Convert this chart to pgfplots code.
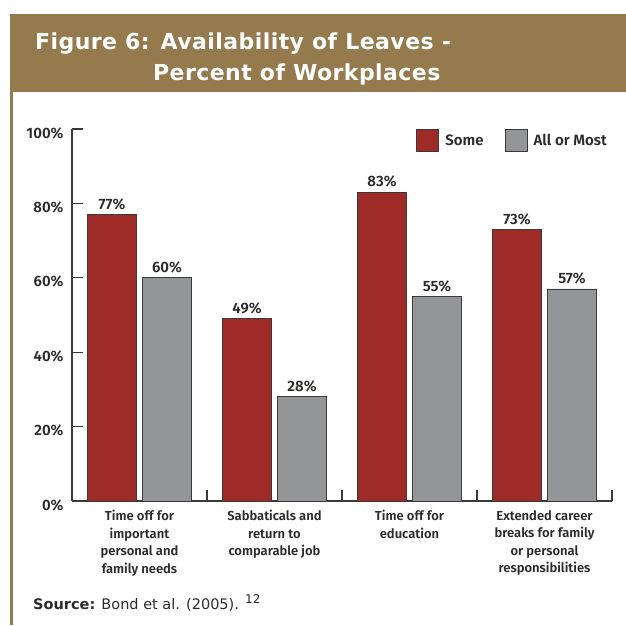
\documentclass[border=0pt]{standalone}
\usepackage{pgfplots}
\pgfplotsset{compat=1.18}
\usepackage{fontspec}
\setmainfont{Fira Sans}[BoldFont={Fira Sans SemiBold}]
\newfontfamily\djv{DejaVu Sans}
\newfontfamily\djvt{DejaVu Sans Bold}[LetterSpace=2]
\definecolor{banner}{HTML}{957A4E}
\definecolor{barred}{HTML}{9E2B28}
\definecolor{bargray}{HTML}{939598}
\definecolor{axisgray}{HTML}{3A3A3A}
\definecolor{txt}{HTML}{2B2B2B}
\begin{document}
\begin{tikzpicture}[x=1pt,y=1pt]
\path[use as bounding box] (0,0) rectangle (626,625);
\fill[banner] (10,533) rectangle (626,611);
\fill[banner] (10,0) rectangle (13,533);
\node[anchor=base west,text=white,font=\djvt\fontsize{22}{22}\selectfont,inner sep=0pt] at (35,575) {Figure 6: Availability of Leaves -};
\node[anchor=base west,text=white,font=\djvt\fontsize{22}{22}\selectfont,inner sep=0pt] at (153,544) {Percent of Workplaces};
\begin{axis}[
  at={(72pt,124pt)}, anchor=south west,
  scale only axis, width=540pt, height=372pt,
  xmin=0, xmax=4, ymin=0, ymax=100,
  axis x line*=bottom, axis y line*=left,
  axis line style={draw=axisgray, line width=1.2pt, -},
  ybar=6pt, bar width=49pt,
  /pgf/number format/assume math mode=true,
  ytick={0,20,40,60,80,100},
  yticklabels={0\%,20\%,40\%,60\%,80\%,100\%},
  yticklabel style={font=\bfseries\fontsize{15}{15}\selectfont, text=txt, yshift=-4pt, xshift=-5pt},
  xtick={1,2,3,4},
  xticklabels={
    {Time off for\\important\\personal and\\family needs},
    {Sabbaticals and\\return to\\comparable job},
    {Time off for\\education},
    {Extended career\\breaks for family\\or personal\\responsibilities}},
  xticklabel style={font=\bfseries\fontsize{13}{17.5}\selectfont, text=txt, align=center, anchor=north, xshift=-67.5pt, yshift=-6pt},
  tick align=inside,
  major tick length=11pt,
  tick style={draw=axisgray, line width=1.2pt},
  nodes near coords={\pgfmathprintnumber{\pgfplotspointmeta}\%},
  every node near coord/.append style={font=\bfseries\fontsize{15}{15}\selectfont, text=txt, yshift=1pt},
  legend style={at={(1,1)}, anchor=north east, draw=none, fill=none,
    font=\bfseries\fontsize{15}{15}\selectfont, text=txt,
    legend columns=2, inner sep=0pt, xshift=-3pt,
    /tikz/every odd column/.append style={column sep=4pt},
    /tikz/every even column/.append style={column sep=19pt}},
  legend image code/.code={\draw[#1,draw=axisgray,line width=1pt] (0pt,-11pt) rectangle (22pt,11pt);},
]
\addplot[fill=barred, draw=axisgray, line width=0.8pt] coordinates {(0.5,77) (1.5,49) (2.5,83) (3.5,73)};
\addplot[fill=bargray, draw=axisgray, line width=0.8pt] coordinates {(0.5,60) (1.5,28) (2.5,55) (3.5,57)};
\legend{Some, All or Most}
\end{axis}
\node[anchor=base west,inner sep=0pt,font=\djv\fontsize{14.5}{14.5}\selectfont,text=txt] at (33,16) {\textbf{Source:} Bond et al. (2005). \raisebox{6pt}{\fontsize{12}{12}\selectfont 12}};
\end{tikzpicture}
\end{document}
